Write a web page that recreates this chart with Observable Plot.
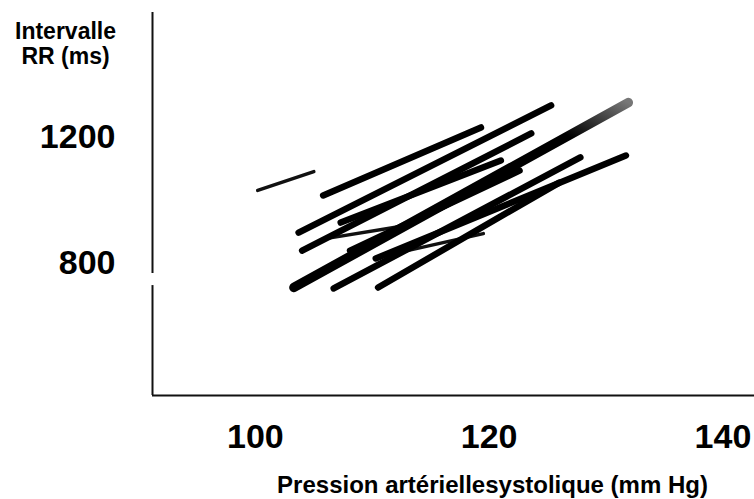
<!DOCTYPE html>
<html>
<head>
<meta charset="utf-8">
<script src="https://cdn.jsdelivr.net/npm/d3@7"></script>
<script src="https://cdn.jsdelivr.net/npm/@observablehq/plot@0.6"></script>
<style>
  html, body { margin: 0; padding: 0; background: #fff; }
  #chart svg { display: block; }
</style>
</head>
<body>
<div id="chart"></div>
<script>
// Tick labels
const xTicks = [100, 120, 140];
const yTicks = [800, 1200];

// Axis titles
const xTitle = "Pression artériellesystolique (mm Hg)";
const yTitle = "Intervalle\nRR (ms)";

// Visible axis extents (data units)
const xDomain = [91.2, 142.7];
const yDomain = [381, 1597];
const yAxisBreak = [730, 768];

// Individual regression segments (SBP in mm Hg, RR in ms)
const segStartSBP = [105.8, 103.7, 104.0, 106.7, 110.5, 110.3, 107.3, 108.1];
const segStartRR  = [1016, 898, 841, 721, 724, 816, 930, 841];
const segEndSBP   = [119.3, 125.3, 123.6, 127.8, 126.0, 131.7, 121.0, 122.6];
const segEndRR    = [1232, 1302, 1213, 1137, 1057, 1143, 1127, 1095];

// Short / faint segments
const thinStartSBP = [100.2, 106.0, 113.0];
const thinStartRR  = [1032, 879, 841];
const thinEndSBP   = [105.0, 112.9, 119.5];
const thinEndRR    = [1092, 921, 895];

// Mean regression line
const meanSBP = [103.3, 131.9];
const meanRR  = [724, 1311];

const segs = segStartSBP.map((_, i) => ({x1: segStartSBP[i], y1: segStartRR[i], x2: segEndSBP[i], y2: segEndRR[i]}));
const thins = thinStartSBP.map((_, i) => ({x1: thinStartSBP[i], y1: thinStartRR[i], x2: thinEndSBP[i], y2: thinEndRR[i]}));
const mean = [{x1: meanSBP[0], y1: meanRR[0], x2: meanSBP[1], y2: meanRR[1]}];

const yAxisParts = [
  {y1: yDomain[0], y2: yAxisBreak[0]},
  {y1: yAxisBreak[1], y2: yDomain[1]}
];

const gradientDefs = () => {
  const defs = d3.create("svg:defs");
  const g = defs.append("linearGradient").attr("id", "fade")
    .attr("x1", 0).attr("y1", 1).attr("x2", 1).attr("y2", 0);
  g.append("stop").attr("offset", "0").attr("stop-color", "#000");
  g.append("stop").attr("offset", "0.82").attr("stop-color", "#000");
  g.append("stop").attr("offset", "1").attr("stop-color", "#777");
  return defs.node();
};

const font = "'Liberation Sans', Arial, Helvetica, sans-serif";

const chart = Plot.plot({
  width: 754,
  height: 499,
  marginTop: 12,
  marginBottom: 104,
  marginLeft: 152,
  marginRight: 0,
  style: {background: "white", color: "black", fontFamily: font},
  x: {domain: xDomain, axis: null},
  y: {domain: yDomain, axis: null},
  marks: [
    gradientDefs,
    // axes
    Plot.ruleY([yDomain[0]], {x1: xDomain[0], x2: xDomain[1], stroke: "#111", strokeWidth: 2}),
    Plot.ruleX(yAxisParts, {x: xDomain[0], y1: "y1", y2: "y2", stroke: "#111", strokeWidth: 2}),
    // segments
    Plot.link(thins, {x1: "x1", y1: "y1", x2: "x2", y2: "y2", stroke: "#111", strokeWidth: 3.5, strokeLinecap: "round"}),
    Plot.link(segs, {x1: "x1", y1: "y1", x2: "x2", y2: "y2", stroke: "#000", strokeWidth: 6.5, strokeLinecap: "round"}),
    Plot.link(mean, {x1: "x1", y1: "y1", x2: "x2", y2: "y2", stroke: "url(#fade)", strokeWidth: 9.5, strokeLinecap: "round"}),
    // tick labels
    Plot.text(xTicks, {x: d => d, frameAnchor: "bottom", dy: 42, text: d => String(d), fontSize: 34, fontWeight: "bold", lineAnchor: "middle", fill: "#000"}),
    Plot.text(yTicks, {y: d => d, frameAnchor: "left", dx: -37, text: d => String(d), fontSize: 34, fontWeight: "bold", textAnchor: "end", fill: "#000"}),
    // titles
    Plot.text([xTitle], {frameAnchor: "bottom", dx: 39, dy: 90, text: d => d, fontSize: 24, fontWeight: "bold", lineAnchor: "middle", fill: "#000"}),
    Plot.text([yTitle], {frameAnchor: "top-left", dx: -87, dy: 9, text: d => d, fontSize: 23, fontWeight: "bold", textAnchor: "middle", lineAnchor: "top", lineHeight: 1.08, fill: "#000"})
  ]
});

document.getElementById("chart").appendChild(chart);
</script>
</body>
</html>
